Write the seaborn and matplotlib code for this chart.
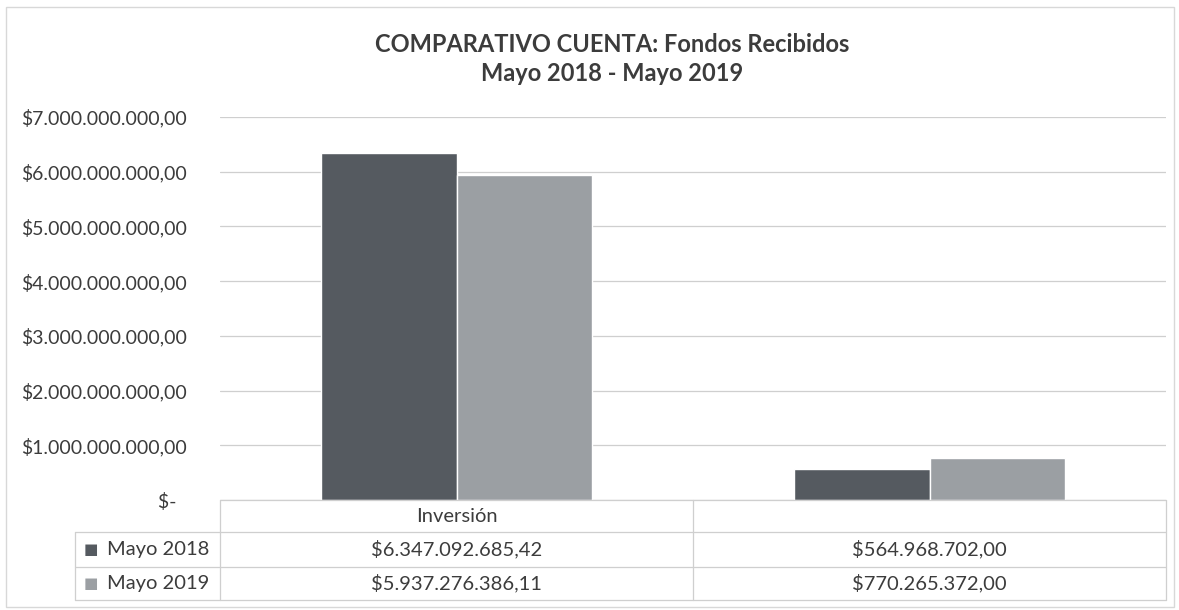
import pandas as pd
import seaborn as sns
import matplotlib.pyplot as plt
from matplotlib.patches import Rectangle

# data
categories = ["Inversión", ""]
series = ["Mayo 2018", "Mayo 2019"]
mayo_2018 = [6347092685.42, 564968702.00]
mayo_2019 = [5937276386.11, 770265372.00]
yticks = [0, 1e9, 2e9, 3e9, 4e9, 5e9, 6e9, 7e9]
title = "COMPARATIVO CUENTA: Fondos Recibidos\nMayo 2018 - Mayo 2019"

colors = ["#555a60", "#9b9fa3"]
txt = "#3c3c3c"
line_c = "#cfcfcf"


def money(v):
    # spanish style: $6.347.092.685,42
    if v == 0:
        return "$-  "
    s = f"{v:,.2f}"
    s = s.replace(",", "#").replace(".", ",").replace("#", ".")
    return "$" + s


df = pd.DataFrame({
    "cat": categories * 2,
    "serie": [series[0]] * 2 + [series[1]] * 2,
    "valor": mayo_2018 + mayo_2019,
})

sns.set_style("white")
plt.rcParams["font.family"] = ["Lato", "DejaVu Sans"]

W, H = 1179, 610
fig = plt.figure(figsize=(W / 100, H / 100), dpi=100)
x0, x1, y_top, y_zero = 220, 1166, 117, 500
ax = fig.add_axes([x0 / W, 1 - y_zero / H, (x1 - x0) / W, (y_zero - y_top) / H])

sns.barplot(data=df, x="cat", y="valor", hue="serie", order=categories,
            hue_order=series, palette=colors, width=0.575, gap=0,
            saturation=1, ax=ax, legend=False)

ax.set_xlim(-0.5, len(categories) - 0.5)
ax.set_ylim(0, 7e9)
ax.set_yticks(yticks)
ax.set_yticklabels([money(v) for v in yticks], fontsize=14, color=txt)
ax.tick_params(axis="y", length=0, pad=24)
ax.set_xticks([])
ax.set_xlabel("")
ax.set_ylabel("")
for sp in ax.spines.values():
    sp.set_visible(False)
ax.yaxis.grid(True, color=line_c, lw=0.9)
ax.set_axisbelow(True)

# data table under the plot
ah = y_zero - y_top
rows_px = [0, 32, 67, 100]
ry = [-r / ah for r in rows_px]
left = (75 - x0) / (x1 - x0)
trans = ax.get_xaxis_transform()
kw = dict(color=line_c, lw=0.9, clip_on=False)

# horizontal lines
ax.plot([-0.5, len(categories) - 0.5], [ry[0], ry[0]], transform=trans, **kw)
for y in ry[1:]:
    ax.plot([left, 1], [y, y], transform=ax.transAxes, **kw)
# vertical lines
for i in range(len(categories) + 1):
    ax.plot([i - 0.5, i - 0.5], [ry[0], ry[-1]], transform=trans, **kw)
ax.plot([left, left], [ry[1], ry[-1]], transform=ax.transAxes, **kw)

for i, c in enumerate(categories):
    ax.text(i, (ry[0] + ry[1]) / 2, c, transform=trans, ha="center",
            va="center", fontsize=14.5, color=txt)
    for j, vals in enumerate([mayo_2018, mayo_2019]):
        ax.text(i, (ry[j + 1] + ry[j + 2]) / 2, money(vals[i]), transform=trans,
                ha="center", va="center", fontsize=14.5, color=txt)

for j, s in enumerate(series):
    yc = (ry[j + 1] + ry[j + 2]) / 2
    ax.text(left + 9 / (x1 - x0), yc, "■", transform=ax.transAxes,
            ha="left", va="center", fontsize=11, color=colors[j],
            family="DejaVu Sans")
    ax.text(left + 32 / (x1 - x0), yc, s, transform=ax.transAxes,
            ha="left", va="center", fontsize=14.5, color=txt)

fig.text(612 / W, 1 - 59 / H, title, ha="center", va="center",
         fontsize=17, fontweight="bold", color=txt, linespacing=1.3)

# outer chart frame
fig.patches.append(Rectangle((6 / W, 3 / H), 1168 / W, 600 / H,
                             transform=fig.transFigure, fill=False,
                             ec="#d8d8d8", lw=1))

fig.savefig("out.png", dpi=100)
